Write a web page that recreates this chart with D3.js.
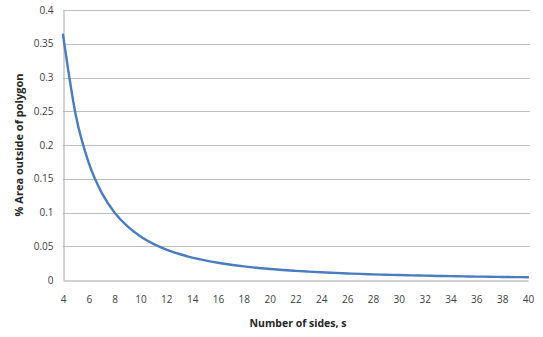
<!DOCTYPE html>
<html><head><meta charset="utf-8">
<script src="https://cdn.jsdelivr.net/npm/d3@7"></script>
<style>body{margin:0;background:#fff}svg{display:block}text{font-family:"Open Sans",sans-serif}</style>
</head><body>
<svg id="c" width="543" height="337"></svg>
<script>
const sides = [4,5,6,7,8,9,10,11,12,13,14,15,16,17,18,19,20,21,22,23,24,25,26,27,28,29,30,31,32,33,34,35,36,37,38,39,40];
const areaOutside = [0.3634,0.2432,0.1730,0.1290,0.0997,0.0793,0.0645,0.0535,0.0451,0.0385,0.0332,0.0290,0.0255,0.0226,0.0202,0.0181,0.0164,0.01485,0.01354,0.01239,0.01138,0.01049,0.00971,0.00900,0.00837,0.00781,0.00730,0.00683,0.00641,0.00603,0.00568,0.00536,0.00507,0.00480,0.00455,0.00432,0.00411];
const xTicks = [4,6,8,10,12,14,16,18,20,22,24,26,28,30,32,34,36,38,40];
const yTicks = [0,0.05,0.1,0.15,0.2,0.25,0.3,0.35,0.4];
const xTitle = "Number of sides, s";
const yTitle = "% Area outside of polygon";

const svg = d3.select("#c");
const m = {l:63, r:528, t:10, b:280};
const x = d3.scaleLinear().domain([4,40]).range([m.l, m.r]);
const y = d3.scaleLinear().domain([0,0.4]).range([m.b, m.t]);

svg.append("g").selectAll("line").data(yTicks.filter(d=>d>0)).join("line")
  .attr("x1", m.l).attr("x2", m.r+2)
  .attr("y1", d=>Math.round(y(d))+0.5).attr("y2", d=>Math.round(y(d))+0.5)
  .attr("stroke", "#bfbfbf").attr("stroke-width", 1);

const ya = svg.append("g").attr("transform", `translate(${m.l+0.5},0)`)
  .call(d3.axisLeft(y).tickValues(yTicks).tickSize(0).tickPadding(10).tickFormat(d=>String(+d.toFixed(2))));
ya.select(".domain").attr("stroke", "#a6a6a6");
ya.selectAll("text").attr("font-size", 10).attr("fill", "#404040").attr("font-family", '"Open Sans",sans-serif');

const xa = svg.append("g").attr("transform", `translate(0,${m.b+0.5})`)
  .call(d3.axisBottom(x).tickValues(xTicks).tickSize(0).tickPadding(15));
xa.select(".domain").attr("stroke", "#a6a6a6");
xa.selectAll("text").attr("font-size", 10).attr("fill", "#404040").attr("font-family", '"Open Sans",sans-serif');

svg.append("path").datum(sides.map((s,i)=>[s, areaOutside[i]]))
  .attr("fill","none").attr("stroke","#4a7cc0").attr("stroke-width",2.4)
  .attr("stroke-linejoin","round").attr("stroke-linecap","round")
  .attr("d", d3.line().x(d=>x(d[0])).y(d=>y(d[1])).curve(d3.curveMonotoneX));

svg.append("text").attr("x", 298).attr("y", 327).attr("text-anchor","middle")
  .attr("font-size", 10.5).attr("font-weight","bold").attr("fill","#262626").text(xTitle);
svg.append("text").attr("transform", "translate(23,145) rotate(-90)").attr("text-anchor","middle")
  .attr("font-size", 11).attr("font-weight","bold").attr("fill","#262626").text(yTitle);
</script>
</body></html>
